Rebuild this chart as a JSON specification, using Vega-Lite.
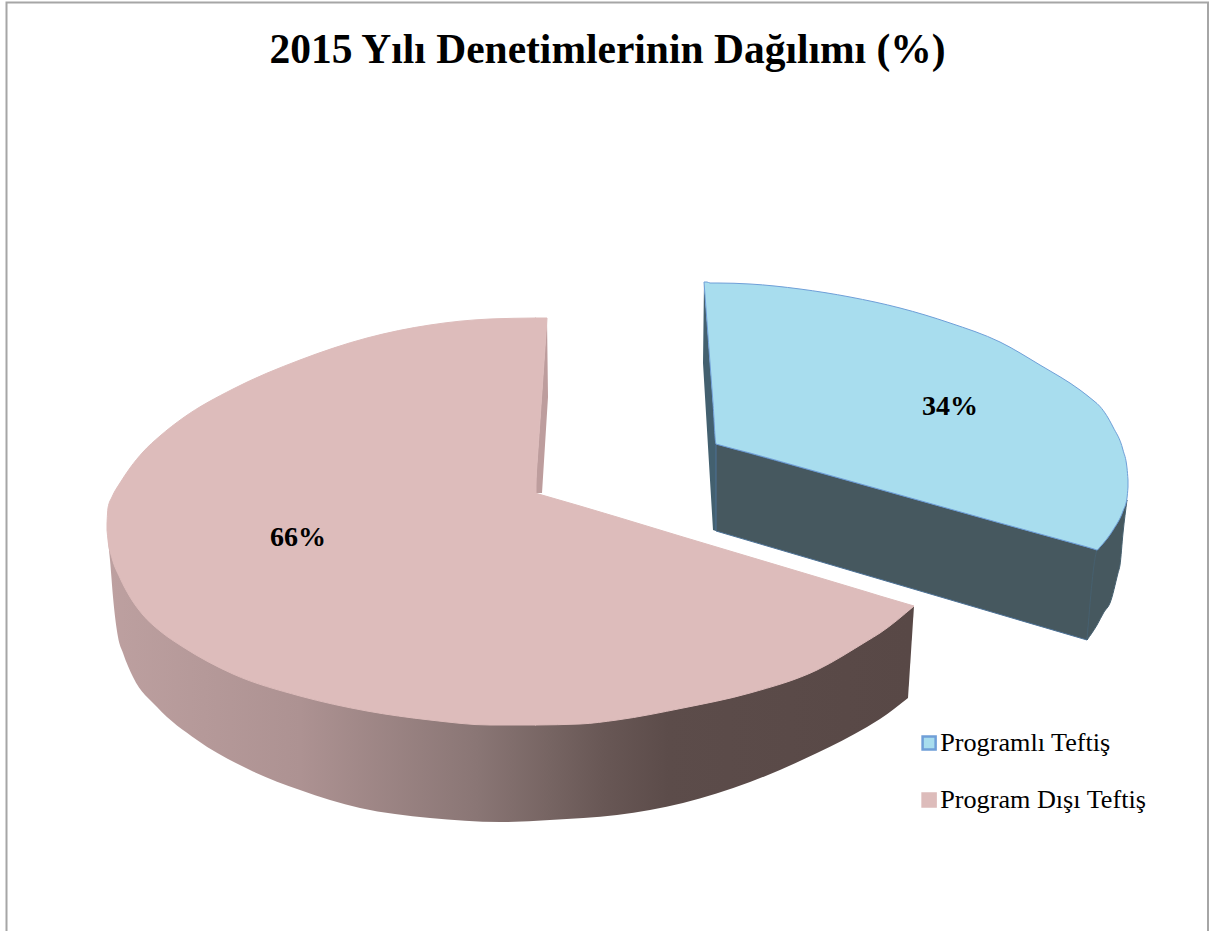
{"$schema":"https://vega.github.io/schema/vega-lite/v6.json","width":1211,"height":931,"padding":0,"autosize":{"type":"none"},"background":"white","view":{"stroke":null},
"title":{"text":"2015 Yılı Denetimlerinin Dağılımı (%)","font":"Liberation Serif","fontSize":41.5,"fontWeight":"bold","color":"#000000","anchor":"middle","offset":-104,"dx":2,"baseline":"alphabetic"},
"datasets":{
"slices":[{"slice":"Programlı Teftiş","value":34,"label":"34%","px":950,"py":407},{"slice":"Program Dışı Teftiş","value":66,"label":"66%","px":298,"py":538}],
"frame":[{"x":6.5,"y":931,"o":1},{"x":6.5,"y":2.5,"o":2},{"x":1208,"y":2.5,"o":3},{"x":1208,"y":931,"o":4}],
"pinkSide":[{"x":108,"top":538,"bottom":540},{"x":110,"top":545,"bottom":560},{"x":113,"top":555,"bottom":597},{"x":118,"top":566,"bottom":637},{"x":123,"top":577,"bottom":653},{"x":133,"top":593,"bottom":677},{"x":157,"top":619,"bottom":707},{"x":197,"top":647,"bottom":740},{"x":250,"top":675,"bottom":770},{"x":300,"top":690,"bottom":790},{"x":360,"top":705,"bottom":808},{"x":430,"top":716,"bottom":818},{"x":500,"top":722,"bottom":822},{"x":550,"top":722,"bottom":820},{"x":617,"top":717,"bottom":815},{"x":683,"top":705,"bottom":803},{"x":750,"top":690,"bottom":782},{"x":817,"top":667,"bottom":753},{"x":867,"top":638,"bottom":727},{"x":880,"top":630,"bottom":719},{"x":908,"top":608,"bottom":698}],
"pinkTail":[{"x":908,"top":611,"bottom":698},{"x":914,"top":606,"bottom":606}],
"pinkWall":[{"x":535,"top":493,"bottom":493},{"x":542,"top":391,"bottom":493},{"x":547,"top":318,"bottom":413},{"x":548,"top":397,"bottom":397}],
"blueWall":[{"x":703,"top":363,"bottom":363},{"x":704,"top":282,"bottom":380},{"x":713,"top":404,"bottom":530},{"x":716,"top":444,"bottom":531}],
"blueFront":[{"x":716,"top":444,"bottom":531},{"x":1087,"top":547,"bottom":640},{"x":1097,"top":550,"bottom":550}],
"blueRim":[{"x":1087,"top":640,"bottom":640},{"x":1097,"top":550,"bottom":625},{"x":1104,"top":542,"bottom":612},{"x":1110,"top":535,"bottom":603},{"x":1118,"top":522,"bottom":573},{"x":1120,"top":518,"bottom":565},{"x":1123,"top":511,"bottom":533},{"x":1127,"top":500,"bottom":500}],
"faces":[
{"slice":"Program Dışı Teftiş","part":"left","x":107,"top":524,"bottom":530},{"slice":"Program Dışı Teftiş","part":"left","x":108,"top":508,"bottom":540},{"slice":"Program Dışı Teftiş","part":"left","x":112,"top":497,"bottom":558},{"slice":"Program Dışı Teftiş","part":"left","x":120,"top":483,"bottom":578},{"slice":"Program Dışı Teftiş","part":"left","x":130,"top":468,"bottom":597},{"slice":"Program Dışı Teftiş","part":"left","x":143,"top":452,"bottom":615},{"slice":"Program Dışı Teftiş","part":"left","x":160,"top":436,"bottom":631},{"slice":"Program Dışı Teftiş","part":"left","x":183,"top":418,"bottom":647},{"slice":"Program Dışı Teftiş","part":"left","x":233,"top":389,"bottom":674},{"slice":"Program Dışı Teftiş","part":"left","x":300,"top":360,"bottom":696},{"slice":"Program Dışı Teftiş","part":"left","x":367,"top":338,"bottom":711},{"slice":"Program Dışı Teftiş","part":"left","x":430,"top":325,"bottom":720},{"slice":"Program Dışı Teftiş","part":"left","x":490,"top":319,"bottom":725},{"slice":"Program Dışı Teftiş","part":"left","x":536,"top":318,"bottom":725},
{"slice":"Program Dışı Teftiş","part":"sliver","x":535,"top":318,"bottom":493},{"slice":"Program Dışı Teftiş","part":"sliver","x":547,"top":318,"bottom":318},
{"slice":"Program Dışı Teftiş","part":"right","x":535,"top":493,"bottom":725},{"slice":"Program Dışı Teftiş","part":"right","x":580,"top":506,"bottom":724},{"slice":"Program Dışı Teftiş","part":"right","x":617,"top":517,"bottom":720},{"slice":"Program Dışı Teftiş","part":"right","x":683,"top":537,"bottom":708},{"slice":"Program Dışı Teftiş","part":"right","x":750,"top":557,"bottom":693},{"slice":"Program Dışı Teftiş","part":"right","x":817,"top":577,"bottom":670},{"slice":"Program Dışı Teftiş","part":"right","x":867,"top":592,"bottom":641},{"slice":"Program Dışı Teftiş","part":"right","x":880,"top":596,"bottom":633},{"slice":"Program Dışı Teftiş","part":"right","x":914,"top":606,"bottom":606},
{"slice":"Programlı Teftiş","part":"blue","x":704,"top":282,"bottom":282},{"slice":"Programlı Teftiş","part":"blue","x":707,"top":282,"bottom":322},{"slice":"Programlı Teftiş","part":"blue","x":710,"top":283,"bottom":363},{"slice":"Programlı Teftiş","part":"blue","x":713,"top":283,"bottom":403},{"slice":"Programlı Teftiş","part":"blue","x":716,"top":283,"bottom":444},{"slice":"Programlı Teftiş","part":"blue","x":718,"top":283,"bottom":444.6},{"slice":"Programlı Teftiş","part":"blue","x":750,"top":284,"bottom":453},{"slice":"Programlı Teftiş","part":"blue","x":800,"top":289,"bottom":467},{"slice":"Programlı Teftiş","part":"blue","x":850,"top":297,"bottom":481},{"slice":"Programlı Teftiş","part":"blue","x":900,"top":308,"bottom":495},{"slice":"Programlı Teftiş","part":"blue","x":950,"top":323,"bottom":509},{"slice":"Programlı Teftiş","part":"blue","x":1000,"top":342,"bottom":523},{"slice":"Programlı Teftiş","part":"blue","x":1040,"top":365,"bottom":534},{"slice":"Programlı Teftiş","part":"blue","x":1080,"top":390,"bottom":545},{"slice":"Programlı Teftiş","part":"blue","x":1094,"top":401,"bottom":549},{"slice":"Programlı Teftiş","part":"blue","x":1097,"top":403.5,"bottom":550},{"slice":"Programlı Teftiş","part":"blue","x":1100,"top":406.5,"bottom":547},{"slice":"Programlı Teftiş","part":"blue","x":1113,"top":427,"bottom":530},{"slice":"Programlı Teftiş","part":"blue","x":1123,"top":450,"bottom":511},{"slice":"Programlı Teftiş","part":"blue","x":1127,"top":468,"bottom":498},{"slice":"Programlı Teftiş","part":"blue","x":1128,"top":480,"bottom":487}
]},
"encoding":{"x":{"field":"x","type":"quantitative","scale":{"domain":[0,1211],"nice":false,"zero":false},"axis":null},"y":{"field":"top","type":"quantitative","scale":{"domain":[931,0],"nice":false,"zero":false},"axis":null},"y2":{"field":"bottom"}},
"layer":[
{"data":{"name":"frame"},"mark":{"type":"line","color":"#a6a6a6","strokeWidth":2,"clip":true},"encoding":{"y":{"field":"y","type":"quantitative","scale":{"domain":[931,0],"nice":false,"zero":false},"axis":null},"y2":null,"order":{"field":"o"}}},
{"data":{"name":"pinkSide"},"mark":{"type":"area","orient":"vertical","interpolate":"monotone","fill":{"gradient":"linear","x1":0,"x2":1,"y1":0,"y2":0,"stops":[{"offset":0,"color":"#bda0a0"},{"offset":0.24,"color":"#ad9292"},{"offset":0.46,"color":"#8a7675"},{"offset":0.55,"color":"#776563"},{"offset":0.62,"color":"#685755"},{"offset":0.7,"color":"#5c4c4a"},{"offset":1,"color":"#584846"}]}}},
{"data":{"name":"pinkTail"},"mark":{"type":"area","orient":"vertical","fill":"#584846"}},
{"data":{"name":"pinkWall"},"mark":{"type":"area","orient":"vertical","fill":"#bd9d9d"}},
{"data":{"name":"blueWall"},"mark":{"type":"area","orient":"vertical","fill":"#43606f"}},
{"data":{"name":"blueFront"},"mark":{"type":"area","orient":"vertical","fill":"#46585f","stroke":"#4c7196","strokeWidth":1}},
{"data":{"name":"blueRim"},"mark":{"type":"area","orient":"vertical","interpolate":"monotone","fill":"#46585f","stroke":"#46606f","strokeWidth":1}},
{"data":{"name":"faces"},"mark":{"type":"area","orient":"vertical","interpolate":"monotone","strokeWidth":1},"encoding":{"detail":{"field":"part"},
"fill":{"field":"slice","type":"nominal","scale":{"domain":["Programlı Teftiş","Program Dışı Teftiş"],"range":["#a8ddee","#ddbcbb"]},"legend":{"title":null,"orient":"none","legendX":916,"legendY":730,"symbolType":"square","symbolSize":170,"symbolStrokeWidth":2.5,"labelFont":"Liberation Serif","labelFontSize":26.2,"labelColor":"#000000","labelLimit":400,"rowPadding":30,"labelOffset":-2}},
"stroke":{"field":"slice","type":"nominal","scale":{"domain":["Programlı Teftiş","Program Dışı Teftiş"],"range":["#6f9fd8","#ddbcbb"]}}}},
{"data":{"name":"slices"},"mark":{"type":"text","font":"Liberation Serif","fontWeight":"bold","fontSize":28,"color":"#000000","align":"center","baseline":"middle"},"encoding":{"x":{"field":"px","type":"quantitative","scale":{"domain":[0,1211],"nice":false,"zero":false},"axis":null},"y":{"field":"py","type":"quantitative","scale":{"domain":[931,0],"nice":false,"zero":false},"axis":null},"y2":null,"text":{"field":"label"}}}
]}
